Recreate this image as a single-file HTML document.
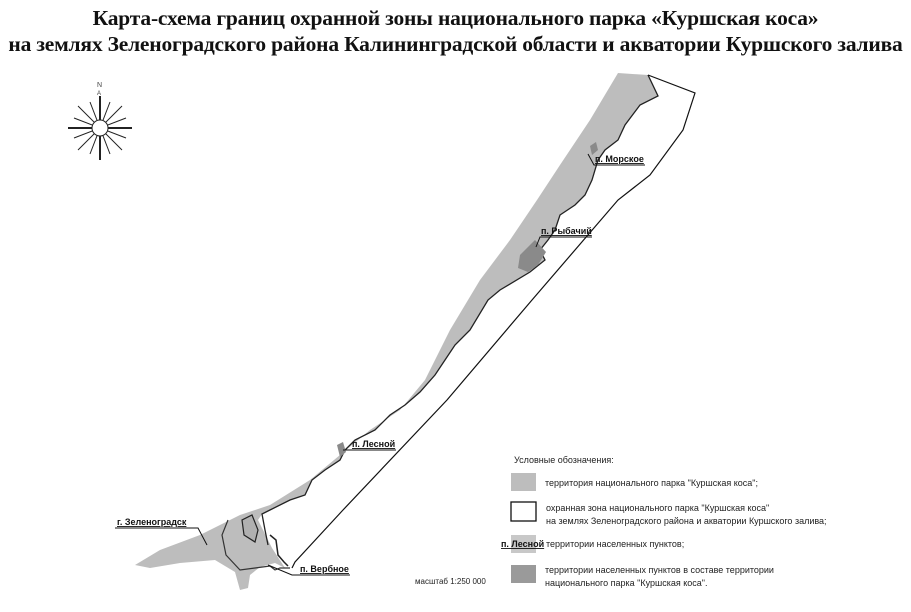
<!DOCTYPE html>
<html><head><meta charset="utf-8"><style>
body{margin:0;background:#fff;width:911px;height:612px;overflow:hidden;font-family:"Liberation Sans",sans-serif}
.t{position:absolute;left:0;width:911px;text-align:center;font-family:"Liberation Serif",serif;font-weight:bold;font-size:21.5px;color:#111;letter-spacing:-0.2px;white-space:nowrap}
</style></head><body>
<div class="t" style="top:6px">Карта-схема границ охранной зоны национального парка «Куршская коса»</div>
<div class="t" style="top:32px">на землях Зеленоградского района Калининградской области и акватории Куршского залива</div>
<svg width="911" height="612" style="position:absolute;left:0;top:0" font-family="Liberation Sans, sans-serif">
<g transform="translate(100,128)" stroke="#222">
<line x1="-32" y1="0" x2="32" y2="0" stroke-width="2"/>
<line x1="0" y1="-32" x2="0" y2="32" stroke-width="2"/>
<g stroke-width="1">
<line x1="-22" y1="-22" x2="22" y2="22"/><line x1="-22" y1="22" x2="22" y2="-22"/>
<line x1="-10" y1="-26" x2="10" y2="26"/><line x1="10" y1="-26" x2="-10" y2="26"/>
<line x1="-26" y1="-10" x2="26" y2="10"/><line x1="-26" y1="10" x2="26" y2="-10"/>
</g>
<circle r="8" fill="#fff" stroke-width="1"/>
</g>
<text x="97" y="87" font-size="7" fill="#444">N</text>
<text x="97" y="95" font-size="6" fill="#444">A</text>
<path d="M618,73 L590,120 L560,165 L537,200 L510,240 L480,280 L450,330 L425,380 L400,410 L370,430 L340,455 L310,480 L270,505 L240,515 L200,535 L160,550 L135,565 L150,568 L180,563 L215,560 L235,572 L240,590 L248,588 L250,575 L260,567 L275,563 L285,568 L272,548 L268,540 L258,520 L262,514 L270,510 L290,500 L305,495 L312,480 L325,470 L340,460 L345,450 L355,440 L375,430 L390,415 L405,405 L420,392 L435,375 L445,360 L455,345 L470,330 L488,300 L500,290 L530,272 L545,260 L540,250 L548,240 L555,230 L560,215 L575,205 L585,195 L592,180 L598,160 L605,150 L618,140 L625,125 L640,105 L658,96 L648,75 Z" fill="#bdbdbd"/>
<path d="M242,520 L244,535 L255,542 L258,530 L252,515 Z" fill="#b0b0b0" stroke="#222" stroke-width="1.2"/>
<path d="M648,75 L658,96 L640,105 L625,125 L618,140 L605,150 L598,160 L592,180 L585,195 L575,205 L560,215 L555,230 L548,240 L540,250 L545,260 L530,272 L500,290 L488,300 L470,330 L455,345 L445,360 L435,375 L420,392 L405,405 L390,415 L375,430 L355,440 L345,450 L340,460 L325,470 L312,480 L305,495 L290,500 L270,510 L262,514 L265,530 L268,545" fill="none" stroke="#222" stroke-width="1.3"/>
<path d="M228,520 L222,535 L226,555 L240,570 L255,568 L270,566 L275,570 L280,568 L290,568" fill="none" stroke="#333" stroke-width="1.2"/>
<path d="M270,535 L276,540 L278,555 L284,562 L288,566" fill="none" stroke="#222" stroke-width="1.5"/>
<path d="M648,75 L695,93 L683,130 L650,175 L618,200 L532,300 L447,400 L343,510 L295,562 L292,568" fill="none" stroke="#111" stroke-width="1.2"/>
<path d="M520,255 L530,245 L535,240 L546,252 L538,265 L528,272 L518,268 Z" fill="#8a8a8a"/>
<path d="M590,146 L596,142 L598,150 L592,155 Z" fill="#8a8a8a"/>
<path d="M337,445 L343,442 L346,452 L340,457 Z" fill="#8a8a8a"/>
<g stroke="#111" stroke-width="1" fill="none">
<path d="M588,154 L594,165 L645,165"/>
<path d="M536,247 L540,237 L592,237"/>
<path d="M343,450 L352,450 L396,450"/>
<path d="M115,528 L198,528 L207,545"/>
<path d="M268,565 L292,575 L350,575"/>
</g>
<g font-size="9" font-weight="bold" fill="#111" text-decoration="underline">
<text x="595" y="162">п. Морское</text>
<text x="541" y="234">п. Рыбачий</text>
<text x="352" y="447">п. Лесной</text>
<text x="117" y="525">г. Зеленоградск</text>
<text x="300" y="572">п. Вербное</text>
</g>
<g font-size="9" fill="#222">
<text x="514" y="463">Условные обозначения:</text>
<rect x="511" y="473" width="25" height="18" fill="#bdbdbd"/>
<text x="545" y="486">территория национального парка "Куршская коса";</text>
<rect x="511" y="502" width="25" height="19" fill="#fff" stroke="#111" stroke-width="1.3"/>
<text x="546" y="511">охранная зона национального парка "Куршская коса"</text>
<text x="546" y="524">на землях Зеленоградского района и акватории Куршского залива;</text>
<rect x="511" y="535" width="25" height="18" fill="#c8c8c8"/>
<text x="546" y="547">территории населенных пунктов;</text>
<rect x="511" y="565" width="25" height="18" fill="#9a9a9a"/>
<text x="545" y="573">территории населенных пунктов в составе территории</text>
<text x="545" y="586">национального парка "Куршская коса".</text>
<text x="415" y="584" font-size="8">масштаб 1:250 000</text>
</g>
<text x="501" y="547" font-size="9" font-weight="bold" fill="#111" text-decoration="underline">п. Лесной</text>
</svg>
</body></html>
